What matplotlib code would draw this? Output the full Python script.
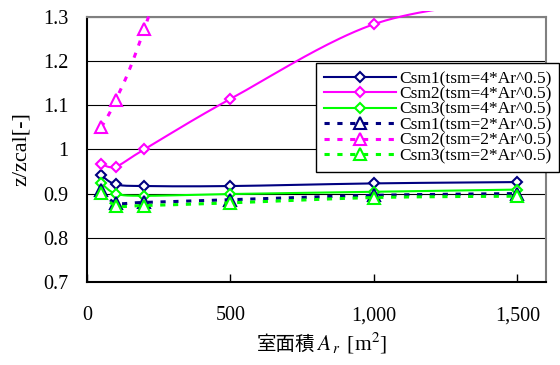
import numpy as np
import matplotlib
matplotlib.use("Agg")
import matplotlib.pyplot as plt
from matplotlib.lines import Line2D
from matplotlib.patches import Rectangle

plt.rcParams['font.family'] = ['Liberation Serif', 'Noto Sans CJK JP']
plt.rcParams['mathtext.fontset'] = 'stix'
plt.rcParams['font.size'] = 12

# room area [m2]
area = [50, 100, 200, 500, 1000, 1500]

# z/zcal for tsm = 4*Ar^0.5
csm1_4 = [0.941, 0.921, 0.917, 0.917, 0.923, 0.926]
csm2_4 = [0.967, 0.961, 1.000, 1.114, 1.283, 1.340]
csm3_4 = [0.923, 0.900, 0.895, 0.899, 0.904, 0.909]

# z/zcal for tsm = 2*Ar^0.5
csm1_2 = [0.907, 0.879, 0.880, 0.886, 0.896, 0.900]
csm2_2 = [1.050, 1.111, 1.272, 1.850, 2.400, 2.800]
csm3_2 = [0.902, 0.873, 0.873, 0.879, 0.891, 0.894]

labels = ["Csm1(tsm=4*Ar^0.5)", "Csm2(tsm=4*Ar^0.5)", "Csm3(tsm=4*Ar^0.5)",
          "Csm1(tsm=2*Ar^0.5)", "Csm2(tsm=2*Ar^0.5)", "Csm3(tsm=2*Ar^0.5)"]
colors = ['#000080', '#FF00FF', '#00FF00'] * 2

xticks = [0, 500, 1000, 1500]
yticks = [0.7, 0.8, 0.9, 1.0, 1.1, 1.2, 1.3]
ytick_labels = ["0.7", "0.8", "0.9", "1", "1.1", "1.2", "1.3"]


def smooth(x, y, n=40):
    # bezier smoothing through every point (control points at 1/6 of neighbour span)
    p = np.column_stack([x, y]).astype(float)
    pad = np.vstack([p[0], p, p[-1]])
    t = np.linspace(0, 1, n)[:, None]
    out = []
    for i in range(len(p) - 1):
        p0, p1, p2, p3 = pad[i], pad[i + 1], pad[i + 2], pad[i + 3]
        c1 = p1 + (p2 - p0) / 6
        c2 = p2 - (p3 - p1) / 6
        seg = (1 - t)**3 * p1 + 3 * (1 - t)**2 * t * c1 + 3 * (1 - t) * t**2 * c2 + t**3 * p2
        out.append(seg if i == 0 else seg[1:])
    s = np.vstack(out)
    return s[:, 0], s[:, 1]


fig = plt.figure(figsize=(5.6, 3.65), dpi=100)
ax = fig.add_axes([87 / 560, 1 - 282 / 365, 459 / 560, 265.3 / 365])

# lines may run a few pixels past the top frame
clip = Rectangle((0, 0), 1, 1.02, transform=ax.transAxes, fill=False, lw=0)
ax.add_patch(clip)

dot = (0, (1.7, 2.5))
series = [csm1_4, csm2_4, csm3_4, csm1_2, csm2_2, csm3_2]
handles = []
for i, vals in enumerate(series):
    solid = i < 3
    ls = '-' if solid else dot
    lw = 1.5 if solid else 2.2
    mk = 'D' if solid else '^'
    ms = 5.5 if solid else 8
    c = colors[i]
    sx, sy = smooth(area, vals)
    ln, = ax.plot(sx, sy, color=c, ls=ls, lw=lw, zorder=3 + i)
    mk_ln, = ax.plot(area, vals, ls='none', marker=mk, ms=ms, mfc='white',
                     mec=c, mew=1.5, zorder=3 + i)
    ln.set_clip_path(clip)
    mk_ln.set_clip_path(clip)
    handles.append(Line2D([], [], color=c, ls=ls, lw=lw, marker=mk, ms=ms,
                          mfc='white', mec=c, mew=1.5))

ax.set_xlim(0, 1600)
ax.set_ylim(0.7, 1.3)
ax.set_xticks(xticks)
ax.set_xticklabels([f"{v:,}" for v in xticks])
ax.set_yticks(yticks)
ax.set_yticklabels(ytick_labels)
ax.tick_params(axis='x', direction='in', length=6, width=1, pad=17.5, labelsize=14.5)
ax.tick_params(axis='y', length=0, pad=13.5, labelsize=14.5)
ax.grid(axis='y', color='black', lw=0.8)
ax.set_axisbelow(True)

for side in ['left', 'bottom']:
    ax.spines[side].set_color('black')
    ax.spines[side].set_linewidth(1.5)
for side in ['top', 'right']:
    ax.spines[side].set_color('#808080')
    ax.spines[side].set_linewidth(1.5)

ax.set_ylabel("z/zcal[-]", fontsize=16)
ax.yaxis.set_label_coords(-0.122, 0.5)

# x axis title: CJK part and the symbol part share one baseline
fig.text(315 / 560, 1 - 350 / 365, "室面積", family='Noto Sans CJK JP',
         fontsize=14, ha='right', va='baseline')
fig.text(316 / 560, 1 - 350 / 365, r"$A_{\,r}\,$ [m$^2$]", fontsize=15.5,
         ha='left', va='baseline')

leg = fig.legend(handles, labels, loc='upper right',
                 bbox_to_anchor=(559 / 560, 1 - 63 / 365),
                 bbox_transform=fig.transFigure, borderaxespad=0,
                 fancybox=False, framealpha=1, edgecolor='black',
                 handlelength=4.15, handletextpad=0.15, labelspacing=-0.04,
                 borderpad=0.45, fontsize=12.5)
leg.get_frame().set_linewidth(1)
leg.set_zorder(20)

fig.savefig("out.png", dpi=100)
